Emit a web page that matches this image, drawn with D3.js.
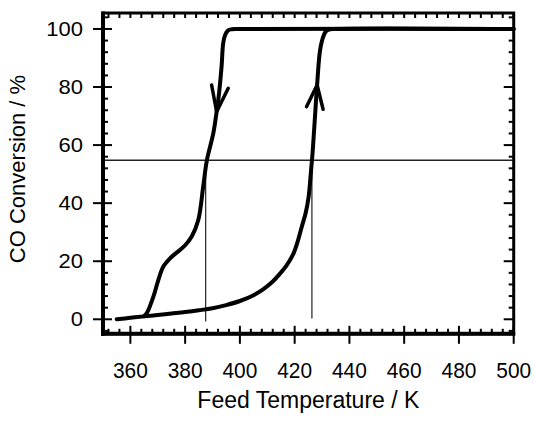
<!DOCTYPE html>
<html>
<head>
<meta charset="utf-8">
<script src="https://cdn.jsdelivr.net/npm/d3@7"></script>
<style>
  body { margin: 0; background: #fff; }
  svg { display: block; }
  text { font-family: Arial, "Liberation Sans", sans-serif; fill: #000; }
</style>
</head>
<body>
<svg width="534" height="424"></svg>
<script>
// heating branch (ignition), T in K, conversion in %
const ignitionT = [355, 360, 365, 370, 375, 380, 385, 390, 395, 400, 405, 408.6, 412, 414.7, 417, 419.6, 421, 422.6, 424, 425.1, 426, 426.6, 427.3, 428.2, 429.3, 430.5, 431.5, 432.5, 434, 500];
const ignitionConv = [0, 0.5, 1.0, 1.5, 2.0, 2.5, 3.1, 3.8, 4.9, 6.3, 8.3, 10.4, 13.0, 15.8, 18.5, 22.7, 26.5, 31.9, 36.5, 42.2, 51.4, 58, 68, 80.7, 92.8, 97.5, 99.3, 99.8, 100, 100];

// cooling branch (extinction), walked from high T down
const extinctionT = [500, 399, 397, 395.8, 394.6, 393.9, 393.3, 392.1, 391.5, 390.3, 387.9, 386.6, 384.8, 382.4, 380, 378.1, 374.5, 372, 370.2, 368.4, 366, 365];
const extinctionConv = [100, 100, 99.9, 99.6, 97.9, 95.1, 87, 75.5, 71.5, 64.1, 54.6, 45.7, 34.2, 28.5, 25.5, 23.9, 21, 18.1, 13.5, 7.8, 2.1, 1.1];

// guide lines
const levelConv = 54.8;
const markerT = [387.5, 426.3];
const markerFrom = [-0.8, 0.3];

// arrow tips [T, conv, direction]
const arrowTips = [[391.5, 71.5, 'down'], [428.2, 80.7, 'up']];

const xTicks = [360, 380, 400, 420, 440, 460, 480, 500];
const yTicks = [0, 20, 40, 60, 80, 100];

const xLabel = 'Feed Temperature / K';
const yLabel = 'CO Conversion / %';

const svg = d3.select('svg');
const plotL = 103, plotR = 513.7, plotT = 13, plotB = 333.8;

const x = d3.scaleLinear().domain([350, 500]).range([plotL, plotR]);
const y = d3.scaleLinear().domain([-5, 105.5]).range([plotB, plotT]);

const minorX = d3.range(352, 500, 4).filter((v) => !xTicks.includes(v));
const minorY = d3.range(-4, 105, 4).filter((v) => !yTicks.includes(v));

// guide lines first, below the curves
const guides = svg.append('g').attr('stroke', '#222').attr('fill', 'none');
guides.append('line')
  .attr('x1', x(350)).attr('x2', x(500))
  .attr('y1', y(levelConv)).attr('y2', y(levelConv))
  .attr('stroke-width', 1.5);
guides.selectAll('line.v')
  .data(markerT)
  .join('line')
  .attr('class', 'v')
  .attr('x1', (d) => x(d)).attr('x2', (d) => x(d))
  .attr('y1', (d, i) => y(markerFrom[i])).attr('y2', y(levelConv))
  .attr('stroke-width', 1.2);

// curves
const line = d3.line()
  .x((d) => x(d[0]))
  .y((d) => y(d[1]))
  .curve(d3.curveCatmullRom.alpha(0.5));

const curves = svg.append('g')
  .attr('fill', 'none')
  .attr('stroke', '#000')
  .attr('stroke-width', 4)
  .attr('stroke-linejoin', 'round')
  .attr('stroke-linecap', 'round');

curves.append('path').attr('d', line(d3.zip(ignitionT, ignitionConv)));
curves.append('path').attr('d', line(d3.zip(extinctionT, extinctionConv)));

// open arrow heads, arm offsets in px
const arms = {
  down: [[-5, -26.7], [11.6, -23.4]],
  up: [[-10.6, 21.7], [6, 24.3]],
};
curves.selectAll('path.arrow')
  .data(arrowTips)
  .join('path')
  .attr('class', 'arrow')
  .attr('stroke-width', 3.5)
  .attr('d', (d) => {
    const tx = x(d[0]), ty = y(d[1]);
    const a = arms[d[2]];
    return `M${tx + a[0][0]},${ty + a[0][1]}L${tx},${ty}L${tx + a[1][0]},${ty + a[1][1]}`;
  });

// frame
const frame = svg.append('g').attr('stroke', '#000').attr('fill', 'none');
frame.append('rect')
  .attr('x', plotL).attr('y', plotT)
  .attr('width', plotR - plotL).attr('height', plotB - plotT)
  .attr('stroke-width', 3);
frame.append('line').attr('x1', plotL).attr('x2', plotL).attr('y1', plotT - 1.5).attr('y2', plotB + 2).attr('stroke-width', 4);
frame.append('line').attr('x1', plotL - 2).attr('x2', plotR + 1.5).attr('y1', plotB).attr('y2', plotB).attr('stroke-width', 4);

// ticks
const ticks = svg.append('g').attr('stroke', '#000').attr('stroke-width', 2);
ticks.selectAll('line.xb')
  .data(xTicks)
  .join('line').attr('class', 'xb')
  .attr('x1', (d) => x(d)).attr('x2', (d) => x(d))
  .attr('y1', plotB - 8).attr('y2', plotB + 10);
ticks.selectAll('line.xbm')
  .data(minorX)
  .join('line').attr('class', 'xbm')
  .attr('x1', (d) => x(d)).attr('x2', (d) => x(d))
  .attr('y1', plotB - 5).attr('y2', plotB);
ticks.selectAll('line.xt')
  .data(xTicks.concat(minorX))
  .join('line').attr('class', 'xt')
  .attr('x1', (d) => x(d)).attr('x2', (d) => x(d))
  .attr('y1', plotT).attr('y2', plotT + 5);
ticks.selectAll('line.yl')
  .data(yTicks)
  .join('line').attr('class', 'yl')
  .attr('x1', plotL - 10).attr('x2', plotL + 9)
  .attr('y1', (d) => y(d)).attr('y2', (d) => y(d));
ticks.selectAll('line.ylm')
  .data(minorY)
  .join('line').attr('class', 'ylm')
  .attr('x1', plotL).attr('x2', plotL + 5)
  .attr('y1', (d) => y(d)).attr('y2', (d) => y(d));
ticks.selectAll('line.yr')
  .data(yTicks)
  .join('line').attr('class', 'yr')
  .attr('x1', plotR - 10).attr('x2', plotR)
  .attr('y1', (d) => y(d)).attr('y2', (d) => y(d));
ticks.selectAll('line.yrm')
  .data(minorY)
  .join('line').attr('class', 'yrm')
  .attr('x1', plotR - 5).attr('x2', plotR)
  .attr('y1', (d) => y(d)).attr('y2', (d) => y(d));

// tick labels
svg.append('g').selectAll('text')
  .data(xTicks)
  .join('text')
  .attr('transform', (d) => `translate(${x(d)},378) scale(0.95,1)`)
  .attr('text-anchor', 'middle')
  .style('font-size', '22px')
  .text((d) => d);

svg.append('g').selectAll('text')
  .data(yTicks)
  .join('text')
  .attr('transform', (d) => `translate(83,${y(d)}) scale(1.1,1)`)
  .attr('text-anchor', 'end')
  .attr('dy', '0.35em')
  .style('font-size', '20px')
  .text((d) => d);

// axis titles
svg.append('text')
  .attr('x', (plotL + plotR) / 2)
  .attr('y', 408)
  .attr('text-anchor', 'middle')
  .style('font-size', '23px')
  .text(xLabel);

svg.append('text')
  .attr('transform', 'translate(25,169) rotate(-90)')
  .attr('text-anchor', 'middle')
  .style('font-size', '22px')
  .text(yLabel);
</script>
</body>
</html>
